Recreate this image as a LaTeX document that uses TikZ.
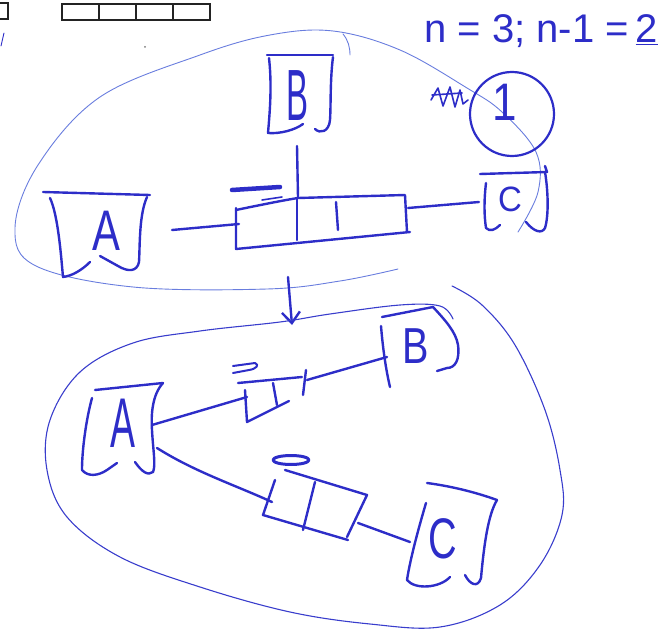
\documentclass[tikz,border=0pt]{standalone}
\usepackage{graphicx}
\usepackage{fontspec}
\setmainfont{Liberation Sans}
\usetikzlibrary{arrows.meta}
\definecolor{pen}{RGB}{45,45,200}
\definecolor{thinpen}{RGB}{105,125,222}
\definecolor{ink}{RGB}{35,35,35}
\begin{document}
\begin{tikzpicture}[x=1pt,y=-1pt,
  pen/.style={draw=pen, line width=2.4pt, line cap=round, line join=round},
  thickpen/.style={draw=pen, line width=4.5pt, line cap=round},
  thinline/.style={draw=thinpen, line width=0.9pt, line cap=round, line join=round},
  letter/.style={text=pen, inner sep=0pt, font=\fontsize{44}{44}\selectfont},
  blackbox/.style={draw=ink, line width=2pt}]
\useasboundingbox (0,0) rectangle (669,631);
\clip (0,0) rectangle (669,631);

% ---- black boxes at the top left
\draw[blackbox] (-6,3) -- (8,3) -- (8,19) -- (-6,19);
\draw[blackbox] (62,4) rectangle (210,20);
\foreach \xx in {99,136,173} \draw[blackbox] (\xx,4) -- (\xx,20);
\draw[thinline, draw=pen] (1,46) -- (4,33);
\fill[ink!60] (145,47) circle (1pt);

% ---- formula
\node[text=pen, inner sep=0pt, font=\fontsize{40}{40}\selectfont] (formula) at (541,31)
  {n = 3; n-1 =\,\underline{2}};

% ---- upper blob
\draw[thinline] plot[smooth, tension=0.6] coordinates {
  (518,232) (538,192) (536,152) (502,112) (467,88) (400,50) (333,31) (270,35)
  (200,55) (100,97) (38,165) (15,228) (36,266) (133,287) (267,289) (340,281) (398,269)};
\draw[thinline] (343,34) .. controls (348,40) and (350,47) .. (350,55);

% ---- circle 1 and scribble
\node[circle, draw=pen, line width=2.2pt, minimum size=84pt, inner sep=0pt] (onecirc) at (512,114) {};
\node[letter] (one) at (505,102) {\scalebox{1}[1.2]{1}};
\draw[pen, line width=1.6pt] (431,100) -- (438,88) -- (443,106) -- (450,87) -- (455,107) -- (460,90) -- (463,104) -- (468,100);
\draw[pen, line width=1.6pt] (432,95) -- (462,93);

% ---- top A box
\draw[pen] (43,192) -- (150,195);
\draw[pen] (50,198) .. controls (58,215) and (61,255) .. (63,277) .. controls (72,276) and (82,270) .. (90,262);
\draw[pen] (147,197) .. controls (139,215) and (140,245) .. (139,262) .. controls (137,272) and (128,272) .. (118,266) -- (100,256);
\node[letter] (Atop) at (106,231) {\scalebox{0.95}[1.3]{A}};

% ---- top B box
\draw[pen] (267,55) -- (333,55);
\draw[pen] (269,58) .. controls (272,85) and (270,110) .. (268,133) .. controls (280,134) and (295,130) .. (303,124);
\draw[pen] (333,57) .. controls (330,80) and (331,105) .. (330,120) .. controls (329,132) and (320,134) .. (315,129);
\node[letter] (Btop) at (298,96) {\scalebox{0.75}[1.65]{B}};

% ---- top C box
\draw[pen] (480,174) -- (547,172) -- (545,166);
\draw[pen] (486,183) .. controls (484,200) and (484,215) .. (486,228) .. controls (490,232) and (495,230) .. (500,225);
\draw[pen] (545,172) .. controls (548,190) and (549,215) .. (545,228) .. controls (542,234) and (534,232) .. (526,222);
\node[letter] (Ctop) at (510,199) {\scalebox{0.75}[0.8]{C}};

% ---- top queue
\draw[pen] (236,210) .. controls (260,205) and (285,200) .. (298,198) -- (405,195) -- (407,232);
\draw[pen] (236,208) -- (236,249) -- (410,232);
\draw[pen] (297,198) -- (297,240);
\draw[pen] (336,202) -- (338,230);
\draw[thickpen] (232,190) -- (280,187);
\draw[pen, line width=1.6pt] (262,200) -- (282,197);
\coordinate (qTopL) at (239,224);
\coordinate (qTopR) at (408,208);
\coordinate (qTopT) at (298,197);
\coordinate (aTopR) at (172,230);
\coordinate (bTopB) at (297,146);
\coordinate (cTopL) at (479,202);
\draw[pen] (aTopR) -- (qTopL);
\draw[pen] (bTopB) -- (qTopT);
\draw[pen] (qTopR) -- (cTopL);

% ---- arrow between the two states
\coordinate (arS) at (288,277);
\coordinate (arE) at (292,325);
\draw[pen, -{Straight Barb[length=11pt,width=18pt,line width=2.4pt]}] (arS) -- (arE);

% ---- lower blob
\draw[thinline, line width=1.1pt, draw=pen!80!thinpen] plot[smooth, tension=0.6] coordinates {
  (453,319) (440,306) (400,305) (330,314) (280,322) (200,331) (133,343) (80,372)
  (50,420) (47,470) (67,517) (120,557) (200,587) (290,612) (370,624) (440,627)
  (500,605) (540,565) (562,515) (560,470) (545,410) (515,345) (482,305) (452,286)};

% ---- lower A box
\draw[pen] (95,390) -- (163,383);
\draw[pen] (92,398) .. controls (86,420) and (82,450) .. (82,470) .. controls (88,477) and (98,476) .. (107,470) -- (117,463);
\draw[pen] (163,383) .. controls (152,395) and (151,415) .. (152,430) .. controls (153,450) and (156,465) .. (153,472) .. controls (148,476) and (142,472) .. (135,462);
\node[letter] (Alow) at (123,423) {\scalebox{0.85}[1.6]{A}};

% ---- lower B box
\draw[pen] (382,317) -- (433,307);
\draw[pen] (381,326) .. controls (383,350) and (386,370) .. (390,387);
\draw[pen] (433,307) .. controls (445,320) and (456,332) .. (458,345) .. controls (460,360) and (455,368) .. (447,368) -- (437,371);
\node[letter] (Blow) at (416,346) {\scalebox{0.9}[1.15]{B}};

% ---- lower C box
\draw[pen] (427,483) .. controls (450,486) and (475,492) .. (497,500);
\draw[pen] (426,503) .. controls (418,530) and (410,560) .. (407,580) .. controls (415,590) and (440,588) .. (450,577);
\draw[pen] (497,500) .. controls (488,515) and (484,545) .. (481,578) .. controls (478,588) and (470,585) .. (465,575);
\node[letter] (Clow) at (443,539) {\scalebox{0.9}[1.3]{C}};

% ---- upper small queue (A-B)
\draw[pen] (238,383) -- (302,377);
\draw[pen] (245,390) -- (247,422) -- (289,401);
\draw[pen] (273,383) -- (277,405);
\draw[pen] (306,370) -- (303,395);
\draw[pen, line width=2pt] (233,366) -- (255,363) .. controls (260,365) and (256,369) .. (249,370) -- (233,373);
\coordinate (aLowR1) at (152,425);
\coordinate (q1L) at (247,397);
\coordinate (q1R) at (307,380);
\coordinate (bLowL) at (387,357);
\draw[pen] (aLowR1) -- (q1L);
\draw[pen] (q1R) -- (bLowL);

% ---- lower small queue (A-C)
\draw[pen] (285,470) -- (367,495) -- (347,537);
\draw[pen] (275,480) -- (263,515) -- (348,540);
\draw[pen] (315,482) -- (303,530);
\draw[pen, line width=3pt] (291,460) ellipse (18pt and 4.5pt);
\coordinate (aLowR2) at (157,448);
\coordinate (q2L) at (272,502);
\coordinate (q2R) at (358,523);
\coordinate (cLowL) at (410,542);
\draw[pen] (aLowR2) .. controls (195,472) and (235,485) .. (q2L);
\draw[pen] (q2R) -- (cLowL);
\end{tikzpicture}
\end{document}
